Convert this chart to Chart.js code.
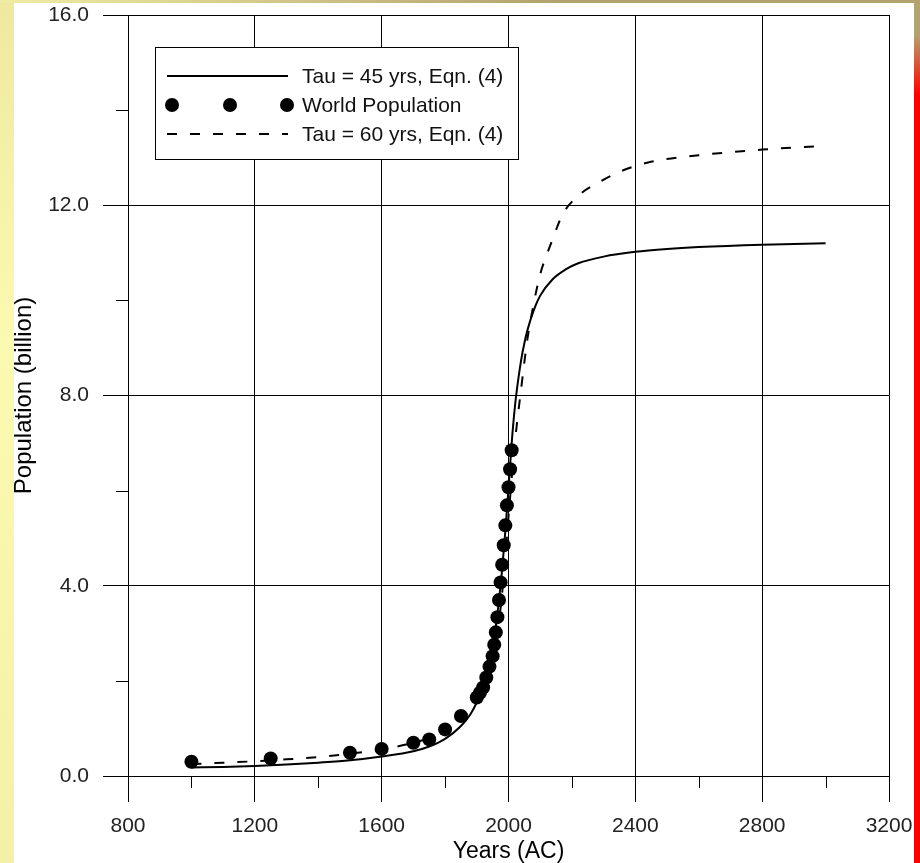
<!DOCTYPE html>
<html><head><meta charset="utf-8">
<script src="https://cdn.jsdelivr.net/npm/chart.js@4.4.1/dist/chart.umd.min.js"></script>
<style>
html,body{margin:0;padding:0;}
#frame{position:relative;width:920px;height:863px;overflow:hidden;background:linear-gradient(to bottom,#efe9a0 0%,#fcf9b0 40%,#f4f0a8 100%);}
#top{position:absolute;left:0;top:0;width:920px;height:3px;background:linear-gradient(to right,#f1eca4,#b3a36e 60%,#b3a36e);}
#red{position:absolute;left:914px;top:0;width:6px;height:863px;background:linear-gradient(to bottom,#b3a36e 0px,#b3a36e 35px,#ff0000 95px,#ff0000 100%);}
#panel{position:absolute;left:14px;top:3px;width:900px;height:860px;background:#fff;}
canvas{position:absolute;left:0;top:0;}
</style></head>
<body><div id="frame"><div id="top"></div><div id="red"></div><div id="panel"></div><canvas id="c" width="920" height="863"></canvas></div>
<script>
// ---- data ----
const popYears = [1000,1250,1500,1600,1700,1750,1800,1850,1900,1910,1920,1930,1940,1950,1955,1960,1965,1970,1975,1980,1985,1990,1995,2000,2005,2010];
const popValues = [0.30,0.37,0.49,0.57,0.70,0.77,0.98,1.26,1.65,1.75,1.86,2.07,2.30,2.52,2.76,3.02,3.34,3.70,4.07,4.44,4.85,5.27,5.69,6.07,6.45,6.85];

const tau45Years = [1000,1100,1200,1300,1400,1500,1600,1700,1750,1800,1850,1880,1900,1920,1940,1950,1960,1970,1980,1990,2000,2010,2020,2030,2040,2050,2060,2080,2100,2140,2180,2220,2300,2400,2500,2600,2800,3000];
const tau45Values = [0.18,0.19,0.21,0.24,0.28,0.33,0.41,0.52,0.62,0.78,1.05,1.30,1.55,1.90,2.40,2.75,3.15,3.70,4.35,5.15,6.05,7.00,7.75,8.30,8.75,9.10,9.38,9.80,10.10,10.45,10.65,10.78,10.92,11.02,11.08,11.12,11.17,11.20];

const tau60Years = [1000,1100,1200,1300,1400,1500,1600,1700,1800,1850,1900,1920,1940,1960,1970,1980,1990,2000,2010,2020,2030,2040,2050,2060,2080,2100,2120,2140,2170,2220,2290,2360,2440,2600,2800,3000];
const tau60Values = [0.25,0.28,0.31,0.35,0.40,0.47,0.56,0.70,0.93,1.18,1.55,1.80,2.20,2.80,3.25,3.85,4.60,5.45,6.25,7.00,7.60,8.15,8.70,9.20,9.95,10.55,10.95,11.30,11.80,12.20,12.50,12.73,12.90,13.05,13.17,13.25];

const seriesLabels = ['Tau = 45 yrs, Eqn. (4)', 'World Population', 'Tau = 60 yrs, Eqn. (4)'];
const xTitle = 'Years (AC)';
const yTitle = 'Population (billion)';
const xMin = 800, xMax = 3200, xMajor = 400, xMinor = 200;
const yMin = 0, yMax = 16, yMajor = 4, yMinor = 2;

const FONT = '"Liberation Sans", Arial, sans-serif';
const zip = (xs, ys) => xs.map((x, i) => ({x, y: ys[i]}));
const isMajor = (v, step) => Math.abs(v / step - Math.round(v / step)) < 1e-9;

const minorTicks = {
  id: 'minorTicks',
  afterDraw(chart) {
    const {ctx, chartArea, scales: {x, y}} = chart;
    ctx.save();
    ctx.strokeStyle = '#000';
    ctx.lineWidth = 1;
    ctx.beginPath();
    x.ticks.forEach(t => {
      if (!isMajor(t.value, xMajor)) {
        const px = Math.round(x.getPixelForValue(t.value)) + 0.5;
        ctx.moveTo(px, chartArea.bottom);
        ctx.lineTo(px, chartArea.bottom + 12);
      }
    });
    y.ticks.forEach(t => {
      if (!isMajor(t.value, yMajor)) {
        const py = Math.round(y.getPixelForValue(t.value)) + 0.5;
        ctx.moveTo(chartArea.left, py);
        ctx.lineTo(chartArea.left - 12, py);
      }
    });
    ctx.stroke();
    ctx.restore();
  }
};

const boxLegend = {
  id: 'boxLegend',
  afterDraw(chart) {
    const {ctx} = chart;
    const ds = chart.data.datasets;
    const bx = 155.5, by = 47.5, bw = 363, bh = 112;
    ctx.save();
    ctx.fillStyle = '#fff';
    ctx.fillRect(bx, by, bw, bh);
    ctx.strokeStyle = '#000';
    ctx.lineWidth = 1;
    ctx.strokeRect(bx, by, bw, bh);
    const rows = [76, 105, 134];
    const x0 = 167, x1 = 288, tx = 302;
    ctx.font = '21px ' + FONT;
    ctx.textBaseline = 'middle';
    ctx.fillStyle = '#111';
    ds.forEach((d, i) => {
      const ry = rows[i];
      if (d.showLine) {
        ctx.save();
        ctx.strokeStyle = d.borderColor;
        ctx.lineWidth = d.borderWidth;
        ctx.setLineDash(d.borderDash || []);
        ctx.beginPath();
        ctx.moveTo(x0, ry);
        ctx.lineTo(x1, ry);
        ctx.stroke();
        ctx.restore();
      } else {
        ctx.save();
        ctx.fillStyle = d.backgroundColor;
        [172, 230, 287].forEach(cx => {
          ctx.beginPath();
          ctx.arc(cx, ry, d.pointRadius, 0, Math.PI * 2);
          ctx.fill();
        });
        ctx.restore();
      }
      ctx.fillText(d.label, tx, ry + 1);
    });
    ctx.restore();
  }
};

const gridColor = c => (c.tick && isMajor(c.tick.value, c.scale.axis === 'x' ? xMajor : yMajor)) ? '#000' : 'rgba(0,0,0,0)';

new Chart(document.getElementById('c').getContext('2d'), {
  type: 'scatter',
  data: {
    datasets: [
      {label: seriesLabels[0], data: zip(tau45Years, tau45Values), showLine: true, borderColor: '#000', backgroundColor: '#000', borderWidth: 2, pointRadius: 0, cubicInterpolationMode: 'monotone', order: 2},
      {label: seriesLabels[1], data: zip(popYears, popValues), showLine: false, borderColor: '#000', backgroundColor: '#000', pointRadius: 7, pointBorderWidth: 0, order: 1},
      {label: seriesLabels[2], data: zip(tau60Years, tau60Values), showLine: true, borderColor: '#000', backgroundColor: '#000', borderWidth: 2, borderDash: [10, 13], pointRadius: 0, cubicInterpolationMode: 'monotone', order: 3}
    ]
  },
  options: {
    responsive: false,
    animation: false,
    devicePixelRatio: 1,
    layout: {padding: {left: 0, top: 15, right: 31, bottom: 0}},
    plugins: {legend: {display: false}, tooltip: {enabled: false}},
    scales: {
      x: {
        type: 'linear', min: xMin, max: xMax,
        ticks: {stepSize: xMinor, autoSkip: false, maxRotation: 0, padding: 12, color: '#222', font: {family: FONT, size: 21},
          callback: v => isMajor(v, xMajor) ? String(v) : ''},
        grid: {color: gridColor, tickColor: gridColor, lineWidth: 1, tickLength: 26},
        border: {color: '#000', width: 1},
        title: {display: true, text: xTitle, color: '#000', font: {family: FONT, size: 23, lineHeight: 1}, padding: 0},
        afterFit: s => { s.height = 87; s.paddingLeft = 0; s.paddingRight = 0; }
      },
      y: {
        type: 'linear', min: yMin, max: yMax,
        ticks: {stepSize: yMinor, autoSkip: false, padding: 14, color: '#222', font: {family: FONT, size: 21},
          callback: v => isMajor(v, yMajor) ? v.toFixed(1) : ''},
        grid: {color: gridColor, tickColor: gridColor, lineWidth: 1, tickLength: 25},
        border: {color: '#000', width: 1},
        title: {display: true, text: yTitle, color: '#000', font: {family: FONT, size: 24, lineHeight: 1}, padding: {top: 12, bottom: 0}},
        afterFit: s => { s.width = 128; s.paddingTop = 0; s.paddingBottom = 0; }
      }
    }
  },
  plugins: [minorTicks, boxLegend]
});
</script>
</body></html>
